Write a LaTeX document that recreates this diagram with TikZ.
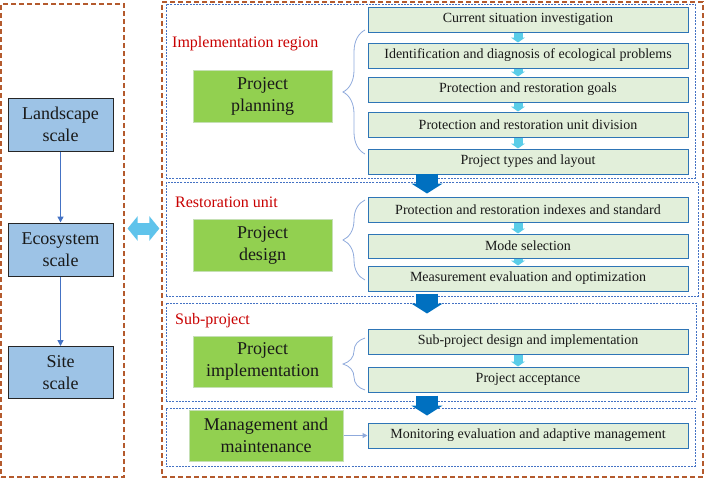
\documentclass[tikz,border=0pt]{standalone}
\usepackage{fontspec}
\setmainfont{Liberation Serif}
\usetikzlibrary{arrows.meta,calc,decorations.pathreplacing}
\definecolor{brownD}{RGB}{180,90,45}
\definecolor{secblue}{RGB}{68,114,196}
\definecolor{lboxfill}{RGB}{157,195,230}
\definecolor{lboxdraw}{RGB}{38,38,38}
\definecolor{gfill}{RGB}{146,208,80}
\definecolor{gdraw}{RGB}{197,224,180}
\definecolor{rfill}{RGB}{226,239,218}
\definecolor{rdraw}{RGB}{46,117,182}
\definecolor{cyanA}{RGB}{90,205,232}
\definecolor{bigA}{RGB}{0,112,192}
\definecolor{dblA}{RGB}{95,195,235}
\definecolor{braceC}{RGB}{143,170,220}
\definecolor{redT}{RGB}{200,0,0}
\definecolor{txt}{RGB}{25,25,25}
\begin{document}
\begin{tikzpicture}[x=1pt,y=-1pt,
  outerbox/.style={draw=brownD,line width=1.2pt,dash pattern=on 5pt off 3pt,inner sep=0pt},
  secbox/.style={draw=secblue,line width=0.8pt,dash pattern=on 2pt off 1.2pt,inner sep=0pt},
  lbox/.style={draw=lboxdraw,fill=lboxfill,line width=1pt,minimum width=105pt,minimum height=53pt,inner sep=0pt,align=center,font=\fontsize{18}{22}\selectfont,text=txt},
  gbox/.style={draw=gdraw,fill=gfill,line width=1pt,minimum width=139pt,minimum height=52pt,inner sep=0pt,align=center,font=\fontsize{18}{22}\selectfont,text=txt},
  rbox/.style={draw=rdraw,fill=rfill,line width=1pt,minimum width=320pt,minimum height=25pt,inner sep=0pt,font=\fontsize{14}{16}\selectfont,text=txt},
  redlab/.style={anchor=west,inner sep=0pt,text=redT,font=\fontsize{16}{19}\selectfont},
  larr/.style={draw=secblue,line width=1.5pt,-{Triangle[width=6pt,length=6pt]}},
  smallarr/.style={draw=cyanA,line width=9pt,-{Triangle[width=14pt,length=5pt]}},
  bigarr/.style={draw=bigA,line width=22pt,-{Triangle[width=31pt,length=10pt]}},
  dblarr/.style={draw=dblA,line width=12pt,{Triangle[width=24pt,length=10pt]}-{Triangle[width=24pt,length=10pt]}},
  mgarr/.style={draw=braceC,line width=1pt,-{Triangle[width=5pt,length=5pt]}},
  bracedec/.style={draw=braceC,line width=0.8pt,decorate,decoration={brace,amplitude=22pt}}
]
\useasboundingbox (0,0) rectangle (708,479);
% outer brown boxes
\node[outerbox,minimum width=123pt,minimum height=473pt] (L) at (62.5,240.5) {};
\node[outerbox,minimum width=541pt,minimum height=475pt] (R) at (432.5,239.5) {};
% blue dashed sections
\node[secbox,minimum width=529pt,minimum height=174pt] (S1) at (430.5,91) {};
\node[secbox,minimum width=532pt,minimum height=114pt] (S2) at (432,239) {};
\node[secbox,minimum width=530pt,minimum height=98pt] (S3) at (431,352) {};
\node[secbox,minimum width=529pt,minimum height=58pt] (S4) at (430.5,437) {};
% left scale boxes
\node[lbox] (land) at (60.5,124.5) {Landscape\\scale};
\node[lbox] (eco) at (60.5,249.5) {Ecosystem\\scale};
\node[lbox,minimum height=52pt] (site) at (60.5,372.5) {Site\\scale};
\draw[larr] (land.south) -- (eco.north);
\draw[larr] (eco.south) -- (site.north);
% double arrow
\coordinate (dy) at (0,228.5);
\draw[dblarr,shorten <=3pt,shorten >=2pt] (L.east |- dy) -- (R.west |- dy);
% red labels
\node[redlab] (lab1) at (172,44) {Implementation region};
\node[redlab] (lab2) at (175,202) {Restoration unit};
\node[redlab] (lab3) at (175,321) {Sub-project};
% green boxes
\node[gbox] (plan) at (262.5,96) {Project\\planning};
\node[gbox] (des) at (262.5,245) {Project\\design};
\node[gbox,minimum height=51pt] (impl) at (262.5,361.5) {Project\\implementation};
\node[gbox,minimum width=154pt,minimum height=51pt] (mm) at (266,435.5) {Management and\\maintenance};
% right boxes
\node[rbox] (p1) at (528,19.5) {Current situation investigation};
\node[rbox] (p2) at (528,55.5) {Identification and diagnosis of ecological problems};
\node[rbox] (p3) at (528,89.5) {Protection and restoration goals};
\node[rbox] (p4) at (528,124.5) {Protection and restoration unit division};
\node[rbox] (p5) at (528,161.5) {Project types and layout};
\node[rbox] (d1) at (528,209.5) {Protection and restoration indexes and standard};
\node[rbox,minimum height=24pt] (d2) at (528,246) {Mode selection};
\node[rbox] (d3) at (528,278.5) {Measurement evaluation and optimization};
\node[rbox] (i1) at (528,341.5) {Sub-project design and implementation};
\node[rbox] (i2) at (528,379.5) {Project acceptance};
\node[rbox] (m1) at (528,435.5) {Monitoring evaluation and adaptive management};
% small cyan arrows
\coordinate (ax) at (518,0);
\foreach \a/\b in {p1/p2,p2/p3,p3/p4,p4/p5,d1/d2,d2/d3,i1/i2}
  \draw[smallarr] (\a.south -| ax) -- (\b.north -| ax);
% big arrows
\coordinate (bx) at (427,0);
\draw[bigarr] ($(p5.south -| bx)+(0,-1)$) -- ++(0,20);
\draw[bigarr] ($(d3.south -| bx)+(0,2)$) -- ++(0,20);
\draw[bigarr] ($(i2.south -| bx)+(0,3)$) -- ++(0,20);
% braces
\draw[bracedec] (365,154) -- (365,30);
\draw[bracedec] (365,280) -- (365,200);
\draw[bracedec] (365,390) -- (365,338);
% management connector
\draw[mgarr] (mm.east) -- (m1.west);
\end{tikzpicture}
\end{document}
